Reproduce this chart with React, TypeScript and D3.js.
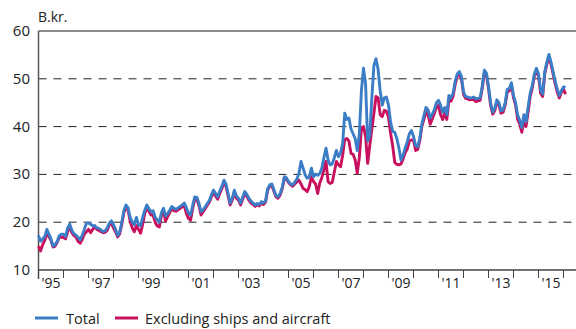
import React from "react";
import * as d3 from "d3";

// Monthly series, Jan 1995 – Feb 2016 (B.kr.)
const startYear = 1995;
const totalSeries: number[] = [
  // 1995
  17.2, 16.0, 16.5, 17.0, 18.5, 17.5, 16.5, 15.0, 15.3, 16.0, 17.2, 17.5,
  // 1996
  17.5, 17.0, 18.8, 19.6, 18.3, 17.6, 17.3, 16.8, 16.3, 17.3, 18.5, 19.8,
  // 1997
  19.8, 19.6, 19.2, 19.3, 18.8, 18.7, 18.4, 18.0, 18.2, 18.8, 19.8, 20.3,
  // 1998
  19.5, 18.5, 17.2, 18.0, 20.0, 22.5, 23.6, 23.0, 21.0, 20.0, 19.5, 21.0,
  // 1999
  19.5, 19.2, 21.0, 22.5, 23.6, 22.8, 22.2, 22.4, 21.0, 20.5, 20.0, 22.0,
  // 2000
  22.9, 21.3, 21.8, 22.5, 23.3, 22.9, 22.7, 23.0, 23.3, 23.6, 24.0, 23.0,
  // 2001
  21.9, 21.5, 23.5, 25.3, 25.2, 24.0, 22.2, 22.6, 23.2, 23.9, 24.5, 25.7,
  // 2002
  26.7, 26.0, 25.3, 26.5, 27.5, 28.8, 28.0, 26.0, 24.0, 25.0, 26.7, 25.5,
  // 2003
  25.0, 24.0, 25.2, 26.4, 25.8, 25.0, 24.4, 24.0, 23.6, 23.9, 23.7, 24.3,
  // 2004
  24.0, 24.5, 27.0, 27.8, 28.0, 26.8, 25.6, 25.3, 26.0, 27.3, 29.5, 29.3,
  // 2005
  28.5, 28.0, 27.8, 28.4, 29.0, 30.2, 32.7, 31.3, 29.9, 29.2, 29.5, 31.3,
  // 2006
  29.5, 30.1, 29.8, 30.2, 31.3, 33.5, 35.5, 33.0, 32.0, 32.2, 33.5, 35.0,
  // 2007
  33.7, 34.5, 36.5, 42.8, 41.5, 41.8, 39.5, 38.5, 37.5, 35.0, 38.5, 47.5,
  // 2008
  52.2, 49.0, 37.0, 38.0, 46.0, 52.8, 54.2, 52.0, 47.5, 44.5, 46.0, 46.2,
  // 2009
  44.5, 41.0, 39.0, 38.8, 37.5, 35.5, 33.0, 34.0, 35.5, 36.8, 38.5, 39.2,
  // 2010
  38.0, 36.0, 35.8, 37.5, 40.5, 42.3, 44.0, 43.5, 41.8, 42.6, 43.5, 45.0,
  // 2011
  45.5, 44.5, 43.0, 44.0, 42.5, 46.5, 46.0, 47.0, 49.5, 51.0, 51.5, 50.5,
  // 2012
  47.3, 46.3, 46.2, 46.0, 46.0, 46.2, 45.8, 45.9, 46.0, 48.5, 51.8, 51.2,
  // 2013
  48.5, 45.0, 43.0, 43.8, 45.6, 45.0, 43.3, 43.5, 45.0, 47.8, 48.0, 49.2,
  // 2014
  46.5, 45.0, 42.4, 41.3, 39.8, 42.5, 41.0, 44.0, 47.0, 48.5, 51.0, 52.2,
  // 2015
  51.0, 47.7, 46.8, 51.5, 53.5, 55.1, 53.5, 51.5, 49.5, 47.8, 46.5, 47.5,
  // 2016
  48.3, 48.2,
];

const exclSeries: number[] = [
  // 1995
  15.0, 14.0, 15.3, 16.2, 17.5, 17.0, 16.2, 14.8, 15.0, 15.8, 16.8, 16.9,
  // 1996
  16.8, 16.5, 18.0, 19.0, 17.8, 17.2, 16.9, 16.0, 15.6, 16.4, 17.5, 18.0,
  // 1997
  18.5, 17.8, 18.5, 19.0, 18.5, 18.3, 18.0, 17.8, 17.9, 18.3, 19.4, 19.8,
  // 1998
  18.8, 18.0, 16.9, 17.6, 19.6, 22.0, 23.2, 22.5, 20.2, 18.8, 18.0, 19.3,
  // 1999
  18.5, 17.7, 19.5, 21.8, 23.0, 22.3, 21.5, 21.5, 20.0, 19.2, 19.0, 21.3,
  // 2000
  22.3, 20.2, 21.2, 22.0, 22.8, 22.4, 22.3, 22.6, 22.9, 23.2, 23.4, 21.8,
  // 2001
  20.8, 20.4, 22.8, 24.8, 24.8, 23.5, 21.5, 22.2, 22.8, 23.5, 24.2, 25.3,
  // 2002
  26.2, 25.5, 24.8, 26.0, 27.0, 28.3, 27.5, 25.5, 23.6, 24.6, 26.2, 25.0,
  // 2003
  24.6, 23.6, 24.8, 26.0, 25.4, 24.6, 24.0, 23.7, 23.3, 23.6, 23.4, 24.0,
  // 2004
  23.7, 24.2, 26.7, 27.5, 27.7, 26.5, 25.3, 25.0, 25.7, 27.0, 29.2, 29.0,
  // 2005
  28.3, 27.8, 27.5, 28.0, 28.4, 28.8, 28.0, 27.1, 26.8, 26.4, 27.5, 29.5,
  // 2006
  28.5, 28.0, 26.0, 28.2, 29.3, 31.0, 32.7, 28.5, 28.1, 28.3, 30.5, 32.7,
  // 2007
  32.0, 31.6, 34.0, 37.3, 37.5, 37.0, 34.4, 34.2, 33.0, 30.3, 33.5, 39.7,
  // 2008
  40.0, 38.0, 32.3, 36.0, 39.5, 42.8, 46.3, 46.0, 42.5, 42.1, 43.4, 43.2,
  // 2009
  42.0, 38.6, 36.0, 32.5, 32.1, 32.0, 32.2, 33.2, 34.5, 35.3, 37.0, 37.2,
  // 2010
  37.2, 35.0, 35.2, 37.0, 40.0, 41.5, 43.0, 42.5, 40.5, 41.6, 42.8, 44.0,
  // 2011
  44.5, 42.5, 41.5, 42.8, 41.5, 45.5, 45.3, 46.3, 48.8, 50.5, 51.0, 50.0,
  // 2012
  46.8, 45.9, 45.8, 45.6, 45.7, 45.6, 45.2, 45.4, 45.5, 48.0, 51.3, 50.8,
  // 2013
  48.0, 44.5, 42.6, 43.3, 45.2, 44.5, 42.8, 43.0, 44.5, 47.2, 47.5, 48.8,
  // 2014
  46.0, 44.5, 41.5, 40.5, 38.8, 41.5, 40.0, 43.0, 46.3, 48.0, 50.6, 51.8,
  // 2015
  50.5, 47.0, 46.3, 51.0, 53.0, 54.6, 53.0, 51.0, 49.0, 47.2, 46.0, 47.2,
  // 2016
  47.8, 46.8,
];

const yTicks = [10, 20, 30, 40, 50, 60];
const gridValues = [20, 30, 40, 50];
const tickYears = d3.range(1995, 2017);
const labelYears = [1995, 1997, 1999, 2001, 2003, 2005, 2007, 2009, 2011, 2013, 2015];
const yLabel = "B.kr.";
const seriesNames = ["Total", "Excluding ships and aircraft"];

const W = 576;
const H = 329;
const BLUE = "#3b7dc6";
const MAGENTA = "#c8105e";
const FONT = "'Open Sans', 'Noto Sans', sans-serif";

export default function App() {
  const x = d3.scaleLinear().domain([1995, 2016]).range([38.5, 563.5]);
  const y = d3.scaleLinear().domain([10, 60]).range([270, 31]);
  const left = 38.5;
  const right = 576;

  const toPts = (arr: number[]) => arr.map((v, i) => [startYear + i / 12, v] as [number, number]);
  const line = d3
    .line<[number, number]>()
    .x((d) => x(d[0]))
    .y((d) => y(d[1]))
    .curve(d3.curveLinear);

  return (
    <svg
      width={W}
      height={H}
      style={{ position: "absolute", left: 0, top: 0, background: "#fff" }}
      fontFamily={FONT}
    >
      {/* grid */}
      {gridValues.map((v) => (
        <line
          key={v}
          x1={left}
          x2={572}
          y1={y(v)}
          y2={y(v)}
          stroke="#222"
          strokeWidth={1}
          strokeDasharray="8,7"
        />
      ))}
      {/* frame top */}
      <line x1={left} x2={right} y1={y(60)} y2={y(60)} stroke="#666" strokeWidth={1.5} />
      {/* left axis */}
      <line x1={left} x2={left} y1={y(60)} y2={y(10) + 9} stroke="#555" strokeWidth={1.5} />
      {/* bottom axis */}
      <line x1={left} x2={right} y1={y(10)} y2={y(10)} stroke="#444" strokeWidth={1.5} />
      {tickYears.map((yr) => (
        <line
          key={yr}
          x1={x(yr)}
          x2={x(yr)}
          y1={y(10)}
          y2={y(10) + 8}
          stroke="#444"
          strokeWidth={1}
        />
      ))}
      {labelYears.map((yr) => (
        <text
          key={yr}
          x={x(yr + 0.5)}
          y={288}
          textAnchor="middle"
          fontSize={14}
          fill="#222"
        >
          {"'" + String(yr).slice(2)}
        </text>
      ))}
      {yTicks.map((v) => (
        <text
          key={v}
          x={30}
          y={y(v) + 5}
          textAnchor="end"
          fontSize={15}
          fill="#222"
        >
          {v}
        </text>
      ))}
      <text x={38} y={22} fontSize={14} fill="#222">
        {yLabel}
      </text>

      {/* series */}
      <path d={line(toPts(exclSeries)) || ""} fill="none" stroke={MAGENTA} strokeWidth={2.9} strokeLinejoin="round" />
      <path d={line(toPts(totalSeries)) || ""} fill="none" stroke={BLUE} strokeWidth={2.9} strokeLinejoin="round" />

      {/* legend */}
      <line x1={35} x2={58} y1={318} y2={318} stroke={BLUE} strokeWidth={3} />
      <text x={66} y={323.5} fontSize={14.5} fill="#222">
        {seriesNames[0]}
      </text>
      <line x1={115} x2={138} y1={318} y2={318} stroke={MAGENTA} strokeWidth={3} />
      <text x={145} y={323.5} fontSize={14.5} fill="#222">
        {seriesNames[1]}
      </text>
    </svg>
  );
}
